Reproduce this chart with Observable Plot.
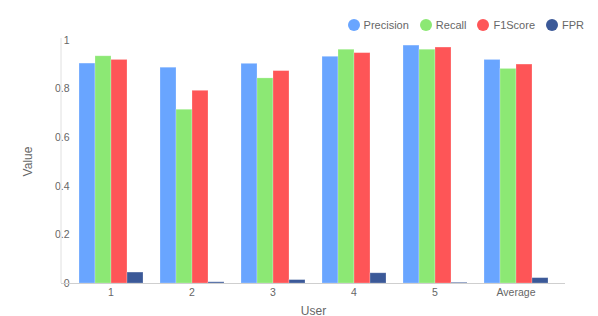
<!DOCTYPE html>
<html>
<head>
<meta charset="utf-8">
<script src="https://cdn.jsdelivr.net/npm/d3@7"></script>
<script src="https://cdn.jsdelivr.net/npm/@observablehq/plot@0.6"></script>
<style>
  html, body { margin: 0; padding: 0; background: #fff; }
  #wrap { position: relative; width: 598px; height: 316px; font-family: "Liberation Sans", Arial, sans-serif; }
  #legend { position: absolute; top: 19px; right: 14px; display: flex; gap: 11px; font-size: 11px; color: #666; z-index: 2; }
  #legend .item { display: flex; align-items: center; gap: 4px; }
  #legend .dot { width: 12px; height: 12px; border-radius: 50%; display: inline-block; }
</style>
</head>
<body>
<div id="wrap"><div id="legend"></div></div>
<script>
const users = ["1", "2", "3", "4", "5", "Average"];
const metrics = ["Precision", "Recall", "F1Score", "FPR"];
const precision = [0.905, 0.888, 0.904, 0.933, 0.979, 0.920];
const recall    = [0.935, 0.715, 0.844, 0.962, 0.962, 0.883];
const f1score   = [0.920, 0.793, 0.874, 0.948, 0.971, 0.901];
const fpr       = [0.045, 0.005, 0.014, 0.042, 0.003, 0.022];
const colors = ["#69a5ff", "#8ce874", "#fe5557", "#3b5998"];
const yTicks = [0, 0.2, 0.4, 0.6, 0.8, 1];
const yLabel = "Value";

const series = [precision, recall, f1score, fpr];
const data = users.flatMap((u, i) => metrics.map((m, j) => ({user: u, metric: m, value: series[j][i]})));

const chart = Plot.plot({
  width: 598,
  height: 316,
  marginLeft: 61,
  marginRight: 33,
  marginTop: 40,
  marginBottom: 33,
  style: {fontFamily: "'Liberation Sans', Arial, sans-serif", fontSize: "10.5px", color: "#666", background: "#fff"},
  fx: {domain: users, paddingInner: 0.2, paddingOuter: 0.2, label: "User", labelAnchor: "center", labelArrow: "none", tickSize: 0, tickPadding: 5, labelOffset: 31},
  x: {domain: metrics, axis: null, padding: 0},
  y: {domain: [0, 1], ticks: yTicks, tickFormat: d => String(d), tickSize: 0, tickPadding: 9, label: null},
  color: {domain: metrics, range: colors},
  marks: [
    Plot.barY(data, {fx: "user", x: "metric", y: "value", fill: "metric", stroke: "#fff", strokeOpacity: 0.3, strokeWidth: 0.8})
  ]
});

const wrap = document.getElementById("wrap");
chart.style.position = "absolute";
chart.style.left = "0";
chart.style.top = "0";
wrap.appendChild(chart);

const svg = d3.select(chart);
svg.selectAll('g[aria-label="fx-axis label"] text').style("font-size", "12px");

// axis lines and y label using the chart's scales
const ys = chart.scale("y");
const y0 = ys.apply(0), y1 = ys.apply(1);
svg.append("line").attr("x1", 61).attr("x2", 61).attr("y1", y1 - 2).attr("y2", y0)
  .attr("stroke", "#e0e0e0").attr("stroke-width", 1);
svg.append("line").attr("x1", 61).attr("x2", 598 - 33).attr("y1", y0 + 0.5).attr("y2", y0 + 0.5)
  .attr("stroke", "#cfcfcf").attr("stroke-width", 1);
svg.append("text")
  .attr("transform", `translate(27.5,${(y0 + y1) / 2}) rotate(-90)`)
  .attr("text-anchor", "middle").attr("dy", "0.35em")
  .style("font-size", "12px").attr("fill", "#666")
  .text(yLabel);

// legend
const legend = d3.select("#legend");
metrics.forEach((m, i) => {
  const it = legend.append("div").attr("class", "item");
  it.append("span").attr("class", "dot").style("background", colors[i]);
  it.append("span").text(m);
});
</script>
</body>
</html>
